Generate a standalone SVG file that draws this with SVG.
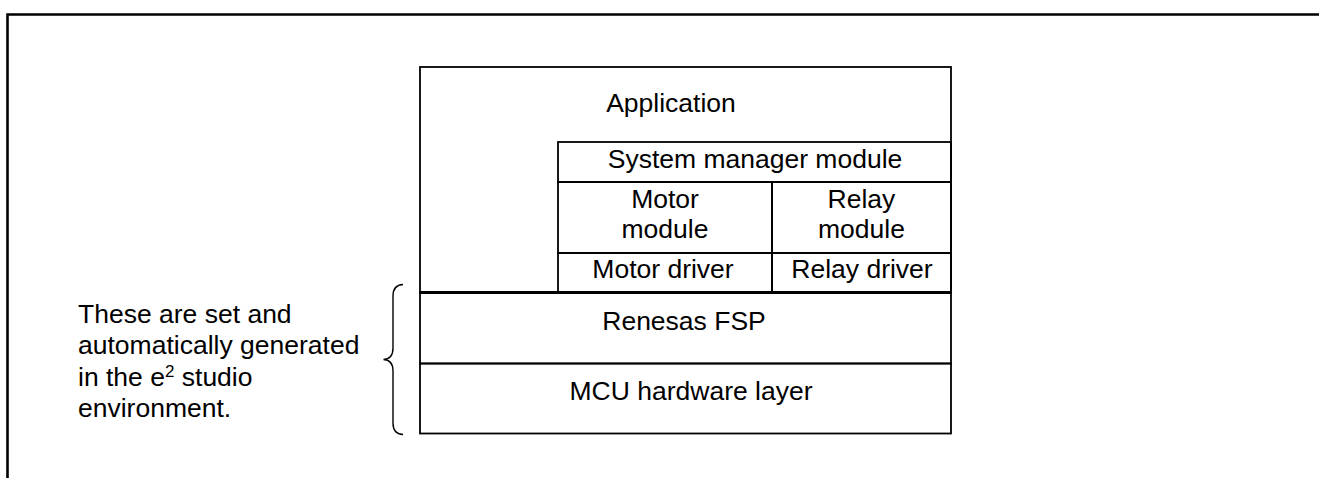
<svg xmlns="http://www.w3.org/2000/svg" width="1319" height="478" viewBox="0 0 1319 478">
<style>
.box{fill:none;stroke:#000;stroke-width:1.8}
.t{font-family:"Liberation Sans",Arial,sans-serif;font-size:26.5px;fill:#000;text-anchor:middle}
.l{text-anchor:start}
</style>
<rect x="0" y="0" width="1319" height="478" fill="#fff"/>
<g id="frame"><path d="M7.5,480 V14.5 H1325" fill="none" stroke="#000" stroke-width="2.6"/></g>
<g id="application">
<rect class="box" x="420" y="67" width="531" height="225.5"/>
<text class="t" x="671" y="112">Application</text>
</g>
<g id="system-manager">
<rect class="box" x="558" y="142" width="393" height="40"/>
<text class="t" x="755" y="168">System manager module</text>
</g>
<g id="motor-module">
<rect class="box" x="558" y="182" width="214" height="71"/>
<text class="t" x="665" y="208">Motor</text>
<text class="t" x="665" y="238">module</text>
</g>
<g id="relay-module">
<rect class="box" x="772" y="182" width="179" height="71"/>
<text class="t" x="861.5" y="208">Relay</text>
<text class="t" x="861.5" y="238">module</text>
</g>
<g id="motor-driver">
<rect class="box" x="558" y="253" width="214" height="39.5"/>
<text class="t" x="663" y="278">Motor driver</text>
</g>
<g id="relay-driver">
<rect class="box" x="772" y="253" width="179" height="39.5"/>
<text class="t" x="862" y="278">Relay driver</text>
</g>
<g id="renesas-fsp">
<rect class="box" x="420" y="292.5" width="531" height="71"/>
<line x1="420" y1="292.5" x2="951" y2="292.5" stroke="#000" stroke-width="2.8"/>
<text class="t" x="684" y="330">Renesas FSP</text>
</g>
<g id="mcu-hardware">
<rect class="box" x="420" y="363.5" width="531" height="70"/>
<text class="t" x="691" y="400">MCU hardware layer</text>
</g>
<g id="connectors">
<path d="M403,284.5 Q393,285 393,296 L393,348 Q393,359 383.5,359.5 Q393,360 393,371 L393,423 Q393,434 403,434.5" fill="none" stroke="#000" stroke-width="1.4"/>
</g>
<g id="note">
<text class="t l" x="78" y="322.5">These are set and</text>
<text class="t l" x="78" y="354">automatically generated</text>
<text class="t l" x="78" y="385.5">in the e<tspan font-size="17" dy="-9">2</tspan><tspan dy="9"> studio</tspan></text>
<text class="t l" x="78" y="417">environment.</text>
</g>
</svg>
